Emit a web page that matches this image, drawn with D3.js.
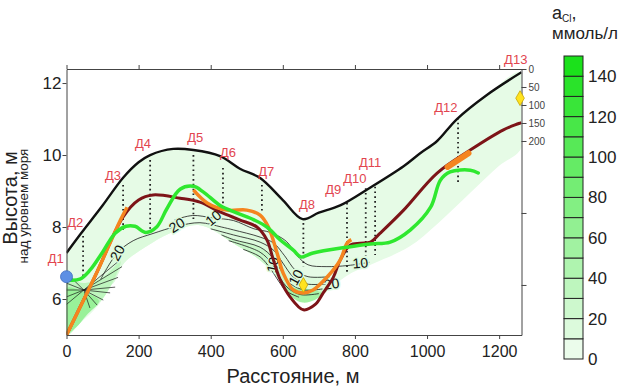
<!DOCTYPE html>
<html>
<head>
<meta charset="utf-8">
<script src="https://cdn.jsdelivr.net/npm/d3@7"></script>
<style>
  body { margin: 0; background: #fff; }
  svg { font-family: "Liberation Sans", Arial, sans-serif; }
</style>
</head>
<body>
<svg id="chart"></svg>
<script>
// ground surface (black), distance m / elevation m
const surface = [[0,7.28],[40,7.82],[100,8.6],[157,9.37],[200,9.8],[232,10.0],[296,10.17],[352,10.14],[426,9.97],[481,9.62],[537,9.36],[600,8.75],[655,8.22],[700,8.4],[759,8.6],[843,9.1],[935,9.69],[981,10.05],[1028,10.39],[1083,11.0],[1166,11.67],[1262,12.3]];
// dark red line
const redLine = [[0,5.0],[80,6.65],[157,8.28],[200,8.75],[240,8.89],[315,8.8],[370,8.69],[426,8.42],[480,8.2],[528,8.0],[556,7.64],[574,7.08],[593,6.53],[620,6.06],[657,5.7],[690,5.85],[712,6.17],[740,6.6],[759,7.08],[787,7.5],[815,7.55],[843,7.58],[870,7.83],[935,8.47],[1028,9.5],[1120,10.14],[1212,10.7],[1262,10.9]];
// orange segments
const orangeA = [[0,5.0],[80,6.65],[150,8.2],[168,8.55]];
const orangeB = [[352,9.03],[390,8.67],[445,8.47],[500,8.47],[537,8.33],[560,8.0],[584,7.28],[601,6.72],[629,6.25],[657,6.17],[684,6.25],[723,6.61],[759,7.08],[778,7.55],[790,7.65]];
const orangeC = [[1057,9.67],[1115,10.05]];
// bright green line
const greenLine = [[0,6.53],[37,6.55],[65,6.8],[100,7.3],[135,7.83],[165,8.02],[190,8.02],[220,7.85],[250,8.0],[278,8.5],[315,9.05],[352,9.13],[380,8.97],[426,8.6],[470,8.4],[520,8.2],[556,8.0],[593,7.64],[629,7.36],[650,7.17],[684,7.28],[778,7.44],[843,7.53],[898,7.58],[954,7.92],[1010,8.55],[1037,9.3],[1064,9.53],[1120,9.58],[1142,9.5]];
// lower edge of the shaded zone
const lowerEdge = [[0,5.0],[40,5.35],[90,5.85],[125,6.4],[160,7.0],[220,7.45],[287,7.83],[370,8.05],[463,7.55],[537,7.08],[584,6.61],[620,6.15],[650,5.95],[690,6.02],[730,6.3],[790,6.72],[850,6.98],[950,7.45],[1030,8.1],[1120,8.95],[1200,9.7],[1262,10.2]];
// isolines
const isoLines = [
  [[300,8.2],[350,8.32],[407,8.25],[463,8.18],[520,7.95],[565,7.85],[610,7.6],[640,7.2],[670,6.95],[720,6.9],[780,6.93],[840,7.02]],
  [[95,6.55],[141,7.28],[185,7.62],[240,7.82],[306,8.02],[370,8.12],[430,8.0],[463,7.92],[537,7.72],[575,7.55],[605,7.2],[635,6.8],[670,6.62],[730,6.62]],
  [[400,7.95],[463,7.78],[537,7.58],[575,7.35],[600,7.0],[630,6.6],[665,6.42],[720,6.42]],
  [[430,7.78],[463,7.65],[537,7.44],[572,7.15],[595,6.8],[622,6.42],[660,6.25],[710,6.28]],
  [[450,7.62],[537,7.3],[568,7.0],[590,6.62],[615,6.3],[650,6.12],[700,6.15]],
  [[490,7.38],[537,7.17],[565,6.85],[588,6.5],[610,6.22],[645,6.05]]
];
// fan of isolines near Д1/Д2
const fanCentre = [48,6.25];
const fanEnds = [[0,6.72],[0,6.44],[0,6.25],[0,6.06],[0,5.85],[148,7.08],[154,6.9],[143,6.6],[135,6.33],[121,6.17],[102,5.97],[85,5.83],[65,5.75]];
const isoLabels = [
  {t:"20", d:141, e:7.28, a:-62}, {t:"20", d:306, e:8.05, a:-32}, {t:"10", d:407, e:8.25, a:-40},
  {t:"10", d:572, e:6.95, a:-78}, {t:"10", d:636, e:6.6, a:-62}, {t:"20", d:735, e:6.42, a:-8}, {t:"10", d:815, e:7.0, a:-5}
];
// concentration zones (mmol/l)
const zones = [
  {v:15, pts:[[95,6.55],[141,7.28],[185,7.62],[240,7.82],[306,8.02],[370,8.12],[430,8.0],[463,7.92],[537,7.72],[575,7.55],[605,7.2],[635,6.8],[670,6.62],[730,6.62],[730,6.3],[690,6.02],[650,5.95],[620,6.15],[584,6.61],[537,7.08],[463,7.55],[370,8.05],[287,7.83],[220,7.45],[160,7.0],[125,6.4]]},
  {v:28, pts:[[430,7.78],[463,7.65],[537,7.44],[572,7.15],[595,6.8],[622,6.42],[660,6.25],[710,6.28],[690,6.02],[650,5.95],[620,6.15],[584,6.61],[537,7.08],[463,7.55]]},
  {v:52, pts:[[600,6.35],[625,6.05],[655,5.9],[690,5.98],[710,6.15],[670,6.28],[640,6.3]]},
  {v:35, pts:[[0,5.0],[0,6.65],[40,6.45],[100,6.6],[150,7.05],[130,6.5],[100,6.0],[60,5.6],[30,5.25]]},
  {v:60, pts:[[0,5.05],[0,6.3],[45,6.2],[90,5.95],[55,5.55],[25,5.2]]}
];
// wells
const wellNames = ["Д1","Д2","Д3","Д4","Д5","Д6","Д7","Д8","Д9","Д10","Д11","Д12","Д13"];
const wellDist  = [0, 46, 157, 232, 352, 434, 542, 657, 778, 830, 856, 1086, 1262];
const wellTop   = [null, 7.75, 9.17, 9.86, 10.0, 9.64, 9.17, 8.11, 8.67, 9.08, 9.12, 11.03, null];
const wellBot   = [null, 6.6, 7.84, 7.84, 8.19, 8.47, 8.42, 6.9, 6.72, 7.2, 7.22, 9.17, null];
const labelDist = [-30, 24, 129, 212, 357, 448, 554, 667, 740, 800, 842, 1052, 1246];
const labelElev = [7.14, 8.14, 9.42, 10.33, 10.5, 10.08, 9.53, 8.64, 9.03, 9.36, 9.8, 11.31, 12.66];
// markers
const blueDots = [[0,6.62]];
const yellowDiamonds = [[657,6.39],[1258,11.58]];
// axes / legend
const xTicks = [0,200,400,600,800,1000,1200];
const yTicks = [6,8,10,12];
const depthTicks = [0,50,100,150,200,400,600];
const depthLabelled = [0,50,100,150,200];
const legendBins = [0,10,20,30,40,50,60,70,80,90,100,110,120,130,140];
const legendTicks = [0,20,40,60,80,100,120,140];

const svg = d3.select('#chart').attr('width', 631).attr('height', 387);

const x = d3.scaleLinear().domain([0, 1262]).range([66.5, 521.5]);
const y = d3.scaleLinear().domain([5, 12.39]).range([335, 69]);
const depth = d3.scaleLinear().domain([0, 739]).range([69, 335]);
const cb = d3.scaleLinear().domain([0, 150]).range([359, 56]);
const shade = d3.scaleLinear().domain([0, 150]).range(["#f2fdf2", "#14e014"]);

const line = d3.line().x(d => x(d[0])).y(d => y(d[1])).curve(d3.curveCatmullRom.alpha(0.5));
const ring = d3.line().x(d => x(d[0])).y(d => y(d[1])).curve(d3.curveCatmullRomClosed.alpha(0.5));

svg.append('clipPath').attr('id', 'plotClip')
  .append('rect').attr('x', x(0)).attr('y', y.range()[1])
  .attr('width', x.range()[1] - x(0)).attr('height', y.range()[0] - y.range()[1]);
const plot = svg.append('g').attr('clip-path', 'url(#plotClip)');

// pale zone between surface and lower edge
plot.append('path')
  .attr('d', ring([...surface, ...lowerEdge.slice().reverse()]))
  .attr('fill', shade(8));

plot.selectAll('path.zone')
  .data(zones)
  .join('path')
  .attr('class', 'zone')
  .attr('d', d => ring(d.pts))
  .attr('fill', d => shade(d.v));

// isolines
plot.selectAll('path.iso')
  .data(isoLines)
  .join('path')
  .attr('class', 'iso')
  .attr('d', line)
  .attr('fill', 'none')
  .attr('stroke', '#1a1a1a')
  .attr('stroke-width', 0.8);

plot.selectAll('line.fan')
  .data(fanEnds)
  .join('line')
  .attr('class', 'fan')
  .attr('x1', x(fanCentre[0])).attr('y1', y(fanCentre[1]))
  .attr('x2', d => x(d[0])).attr('y2', d => y(d[1]))
  .attr('stroke', '#1a1a1a')
  .attr('stroke-width', 0.7);

plot.selectAll('text.iso')
  .data(isoLabels)
  .join('text')
  .attr('class', 'iso')
  .attr('transform', d => `translate(${x(d.d)},${y(d.e)}) rotate(${d.a})`)
  .attr('text-anchor', 'middle')
  .attr('dy', '0.35em')
  .attr('font-size', 14)
  .attr('fill', '#111')
  .attr('stroke', shade(15))
  .attr('stroke-width', 3)
  .attr('paint-order', 'stroke')
  .text(d => d.t);

// wells
const wells = wellNames.map((n, i) => ({n: n, d: wellDist[i], top: wellTop[i], bot: wellBot[i], ld: labelDist[i], le: labelElev[i]}));
plot.selectAll('line.well')
  .data(wells.filter(w => w.top !== null))
  .join('line')
  .attr('class', 'well')
  .attr('x1', d => x(d.d)).attr('x2', d => x(d.d))
  .attr('y1', d => y(d.top)).attr('y2', d => y(d.bot))
  .attr('stroke', '#222')
  .attr('stroke-width', 1.8)
  .attr('stroke-dasharray', '1.6,3.2');

// lines
plot.append('path').attr('d', line(surface))
  .attr('fill', 'none').attr('stroke', '#111').attr('stroke-width', 2.4);
plot.append('path').attr('d', line(redLine))
  .attr('fill', 'none').attr('stroke', '#7d1418').attr('stroke-width', 3);
plot.selectAll('path.orange')
  .data([orangeA, orangeB])
  .join('path')
  .attr('class', 'orange')
  .attr('d', line)
  .attr('fill', 'none').attr('stroke', '#f5851f').attr('stroke-width', 3.5);
plot.append('path').attr('d', line(orangeC))
  .attr('fill', 'none').attr('stroke', '#f5851f').attr('stroke-width', 6).attr('stroke-linecap', 'round');
plot.append('path').attr('d', line(greenLine))
  .attr('fill', 'none').attr('stroke', '#2fe82f').attr('stroke-width', 3.5).attr('stroke-linecap', 'round');

// axes
const styleAxis = (g, size) => {
  g.select('.domain').attr('stroke', '#444');
  g.selectAll('.tick line').attr('stroke', '#444');
  g.selectAll('.tick text').attr('fill', '#222').attr('font-size', size)
    .attr('font-family', '"Liberation Sans", Arial, sans-serif');
};
svg.append('g').attr('transform', `translate(0,${y.range()[0]})`)
  .call(d3.axisBottom(x).tickValues(xTicks).tickSize(4).tickPadding(7).tickSizeOuter(0).tickFormat(d3.format('d')))
  .call(g => styleAxis(g, 16));
svg.append('g').attr('transform', `translate(0,${y.range()[1]})`)
  .call(d3.axisTop(x).tickValues(xTicks).tickSize(4).tickFormat('').tickSizeOuter(0))
  .call(g => styleAxis(g, 16));
svg.append('g').attr('transform', `translate(${x(0)},0)`)
  .call(d3.axisLeft(y).tickValues(yTicks).tickSize(4).tickPadding(1).tickSizeOuter(0))
  .call(g => styleAxis(g, 17));
svg.append('g').attr('transform', `translate(${x.range()[1]},0)`)
  .call(d3.axisRight(depth).tickValues(depthTicks).tickSize(5).tickPadding(2).tickSizeOuter(0)
    .tickFormat(d => depthLabelled.includes(d) ? d : ''))
  .call(g => styleAxis(g, 10))
  .call(g => g.selectAll('.tick text').attr('fill', '#444'));

// markers
svg.selectAll('circle.blue')
  .data(blueDots)
  .join('circle')
  .attr('class', 'blue')
  .attr('cx', d => x(d[0])).attr('cy', d => y(d[1]))
  .attr('r', 6)
  .attr('fill', '#5d8fe4').attr('stroke', '#3f6cc0').attr('stroke-width', 0.8);
svg.selectAll('path.diamond')
  .data(yellowDiamonds)
  .join('path')
  .attr('class', 'diamond')
  .attr('transform', d => `translate(${x(d[0])},${y(d[1])})`)
  .attr('d', d3.symbol(d3.symbolDiamond, 64))
  .attr('fill', '#ffe31f').attr('stroke', '#c9a400').attr('stroke-width', 0.8);

// well labels
svg.selectAll('text.wlabel')
  .data(wells)
  .join('text')
  .attr('class', 'wlabel')
  .attr('x', d => x(d.ld)).attr('y', d => y(d.le))
  .attr('dy', '0.35em')
  .attr('text-anchor', 'middle')
  .attr('font-size', 13)
  .attr('fill', '#e2454f')
  .text(d => d.n);

// axis titles
svg.append('text')
  .attr('x', 293).attr('y', 383)
  .attr('text-anchor', 'middle')
  .attr('font-size', 20).attr('fill', '#222')
  .text('Расстояние, м');
svg.append('text')
  .attr('transform', 'translate(17,198) rotate(-90)')
  .attr('text-anchor', 'middle')
  .attr('font-size', 20).attr('fill', '#222')
  .text('Высота, м');
svg.append('text')
  .attr('transform', 'translate(28,206) rotate(-90)')
  .attr('text-anchor', 'middle')
  .attr('font-size', 13.5).attr('fill', '#222')
  .text('над уровнем моря');

// colour legend
const legend = svg.append('g');
legend.selectAll('rect')
  .data(legendBins)
  .join('rect')
  .attr('x', 564).attr('width', 19)
  .attr('y', d => cb(d + 10)).attr('height', d => cb(d) - cb(d + 10))
  .attr('fill', d => shade(d + 5))
  .attr('stroke', '#222').attr('stroke-width', 1);
legend.selectAll('text')
  .data(legendTicks)
  .join('text')
  .attr('x', 588).attr('y', d => cb(d))
  .attr('dy', '0.35em')
  .attr('font-size', 17).attr('fill', '#222')
  .text(d => d);
const ttl = svg.append('text').attr('x', 552).attr('y', 19).attr('font-size', 18).attr('fill', '#222');
ttl.append('tspan').text('a');
ttl.append('tspan').attr('font-size', 10).attr('dy', 3).text('Cl');
ttl.append('tspan').attr('dy', -3).text(',');
svg.append('text').attr('x', 552).attr('y', 39).attr('font-size', 17).attr('fill', '#222').text('ммоль/л');
</script>
</body>
</html>
